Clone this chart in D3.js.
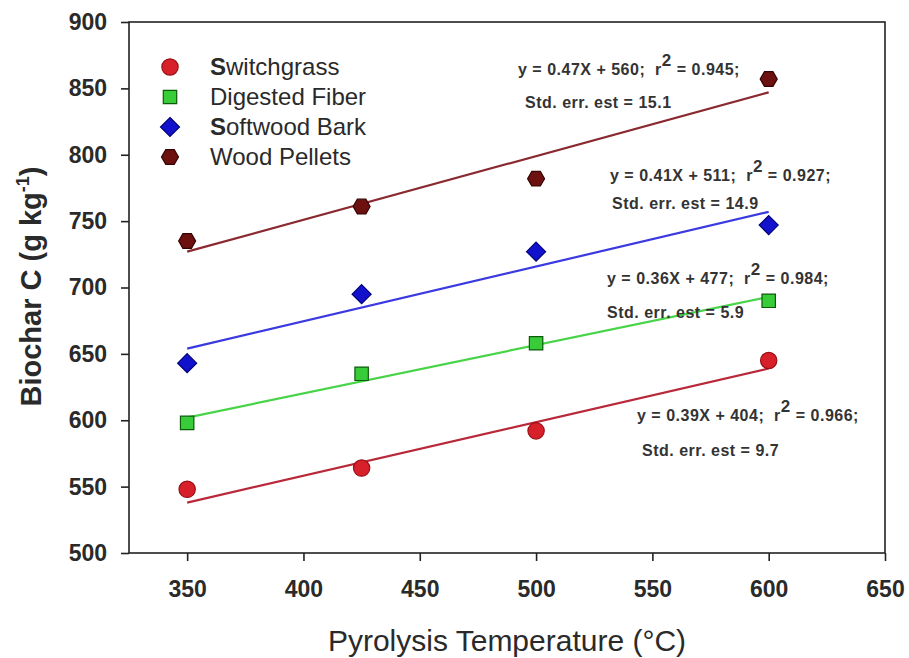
<!DOCTYPE html>
<html>
<head>
<meta charset="utf-8">
<script src="https://cdn.jsdelivr.net/npm/d3@7"></script>
<style>
  html, body { margin: 0; padding: 0; background: #fff; }
  svg { display: block; }
  text { font-family: "Liberation Sans", Arial, sans-serif; }
</style>
</head>
<body>
<svg id="chart" width="909" height="658"></svg>
<script>
// ---- data ----
const temperatures = [350, 425, 500, 600];
const seriesNames = ["Switchgrass", "Digested Fiber", "Softwood Bark", "Wood Pellets"];
const switchgrass   = [548, 564, 592, 645];
const digestedFiber = [598, 635, 658, 690];
const softwoodBark  = [643, 695, 727, 747];
const woodPellets   = [735, 761, 782, 857];
// fitted regression line values at 350 and 600
const fitX = [350, 600];
const fitSwitchgrass = [538, 639];
const fitDigested    = [602, 693];
const fitSoftwood    = [654, 757];
const fitWood        = [727, 847];
const eqLines = [
  ["y = 0.39X + 404;  r", "2", " = 0.966;", "Std. err. est = 9.7"],
  ["y = 0.36X + 477;  r", "2", " = 0.984;", "Std. err. est = 5.9"],
  ["y = 0.41X + 511;  r", "2", " = 0.927;", "Std. err. est = 14.9"],
  ["y = 0.47X + 560;  r", "2", " = 0.945;", "Std. err. est = 15.1"]
];
const xTicks = [350, 400, 450, 500, 550, 600, 650];
const yTicks = [500, 550, 600, 650, 700, 750, 800, 850, 900];

// ---- layout / style ----
const margin = {left: 129, right: 24, top: 22, bottom: 105};
const W = 909, H = 658;
const svg = d3.select("#chart");
const x = d3.scaleLinear().domain([325, 650]).range([margin.left, W - margin.right]);
const y = d3.scaleLinear().domain([500, 900]).range([H - margin.bottom, margin.top]);

const styles = [
  {fill: "#d8202a", stroke: "#9a1018", line: "#b82838", shape: "circle"},
  {fill: "#38cc38", stroke: "#0c5a0c", line: "#48d448", shape: "square"},
  {fill: "#1212cc", stroke: "#00007a", line: "#3a3ae0", shape: "diamond"},
  {fill: "#6c1010", stroke: "#360404", line: "#8a2a30", shape: "hex"}
];
const values = [switchgrass, digestedFiber, softwoodBark, woodPellets];
const fits = [fitSwitchgrass, fitDigested, fitSoftwood, fitWood];
const eqPos = [
  [{x: 637, y: 421}, {x: 642, y: 456}],
  [{x: 607, y: 284}, {x: 607, y: 318}],
  [{x: 610, y: 181}, {x: 612, y: 209}],
  [{x: 518, y: 75},  {x: 525, y: 108}]
];

function symbolPath(shape) {
  if (shape === "circle") return d3.symbol(d3.symbolCircle, 210)();
  if (shape === "square") return d3.symbol(d3.symbolSquare, 180)();
  if (shape === "diamond") {
    const r = 9.5;
    return `M0,${-r}L${r},0L0,${r}L${-r},0Z`;
  }
  const r = 8.5;
  let p = "";
  for (let i = 0; i < 6; i++) {
    const a = Math.PI / 3 * i;
    p += (i ? "L" : "M") + (r * Math.cos(a)).toFixed(2) + "," + (r * Math.sin(a)).toFixed(2);
  }
  return p + "Z";
}

const plotBottom = y(500), plotTop = y(900), plotLeft = x(325), plotRight = x(650);
const axisColor = "#222";

const yAxis = svg.append("g").attr("transform", `translate(${plotLeft},0)`)
  .call(d3.axisLeft(y).tickValues(yTicks).tickSize(8).tickPadding(14).tickFormat(d3.format("d")));
const xAxis = svg.append("g").attr("transform", `translate(0,${plotBottom})`)
  .call(d3.axisBottom(x).tickValues(xTicks).tickSize(8).tickPadding(20).tickFormat(d3.format("d")));
[yAxis, xAxis].forEach(g => {
  g.select(".domain").remove();
  g.selectAll(".tick line").attr("stroke", axisColor).attr("stroke-width", 1.6);
  g.selectAll(".tick text").attr("fill", "#2a2a2a").style("font-size", "23px")
    .style("font-weight", "bold").style("font-family", "'Liberation Sans', Arial, sans-serif");
});

svg.append("rect").attr("x", plotLeft).attr("y", plotTop)
  .attr("width", plotRight - plotLeft).attr("height", plotBottom - plotTop)
  .attr("fill", "none").attr("stroke", axisColor).attr("stroke-width", 1.6);

const line = d3.line().x((d, i) => x(fitX[i])).y(d => y(d));
fits.forEach((f, k) => {
  svg.append("path").attr("d", line(f)).attr("fill", "none")
    .attr("stroke", styles[k].line).attr("stroke-width", 2.2);
});

values.forEach((vals, k) => {
  svg.append("g").selectAll("path").data(vals).join("path")
    .attr("transform", (d, i) => `translate(${x(temperatures[i])},${y(d)})`)
    .attr("d", symbolPath(styles[k].shape))
    .attr("fill", styles[k].fill).attr("stroke", styles[k].stroke).attr("stroke-width", 1.2);
});

eqLines.forEach((e, k) => {
  const t1 = svg.append("text").attr("x", eqPos[k][0].x).attr("y", eqPos[k][0].y)
    .attr("fill", "#333").style("font-size", "16px").style("font-weight", "bold")
    .style("letter-spacing", "0.5px").style("white-space", "pre");
  t1.append("tspan").text(e[0]);
  t1.append("tspan").attr("dy", -9).style("font-size", "17px").text(e[1]);
  t1.append("tspan").attr("dy", 9).text(e[2]);
  svg.append("text").attr("x", eqPos[k][1].x).attr("y", eqPos[k][1].y)
    .attr("fill", "#333").style("font-size", "16px").style("font-weight", "bold")
    .style("letter-spacing", "0.5px").text(e[3]);
});

const legend = svg.append("g");
seriesNames.forEach((name, k) => {
  const ly = 67 + k * 30;
  legend.append("path").attr("transform", `translate(170,${ly})`)
    .attr("d", symbolPath(styles[k].shape))
    .attr("fill", styles[k].fill).attr("stroke", styles[k].stroke).attr("stroke-width", 1.2);
  const t = legend.append("text").attr("x", 210).attr("y", ly + 8)
    .attr("fill", "#2a2a2a").style("font-size", "24px");
  if (name[0] === "S") {
    t.append("tspan").style("font-weight", "bold").text(name[0]);
    t.append("tspan").text(name.slice(1));
  } else {
    t.text(name);
  }
});

svg.append("text").attr("x", (plotLeft + plotRight) / 2).attr("y", 651)
  .attr("text-anchor", "middle").attr("fill", "#2a2a2a")
  .style("font-size", "30px").text("Pyrolysis Temperature (°C)");

const yt = svg.append("text")
  .attr("transform", `translate(41,${(plotTop + plotBottom) / 2 - 1}) rotate(-90)`)
  .attr("text-anchor", "middle").attr("fill", "#2a2a2a")
  .style("font-size", "29px").style("font-weight", "bold");
yt.append("tspan").text("Biochar C (g kg");
yt.append("tspan").attr("dy", -12).style("font-size", "18px").text("-1");
yt.append("tspan").attr("dy", 12).text(")");
</script>
</body>
</html>
